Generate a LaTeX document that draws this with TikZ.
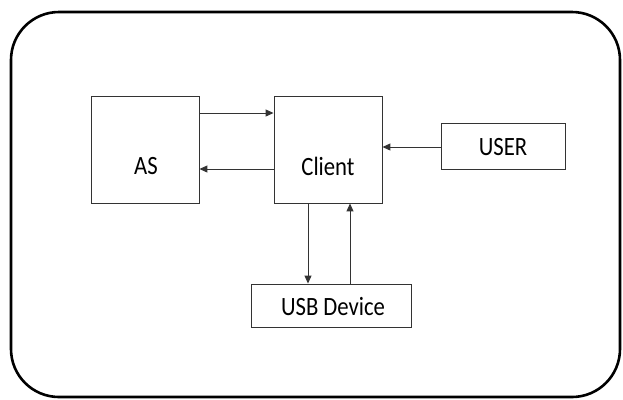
\documentclass[tikz,border=0pt]{standalone}
\usepackage{fontspec}
\setmainfont{Carlito}
\newfontfamily\labelfont[FakeStretch=0.86]{Carlito}
\usetikzlibrary{arrows.meta}
\begin{document}
\begin{tikzpicture}[x=1bp,y=-1bp,
  box/.style={draw=black!80,line width=0.9bp,inner sep=0pt},
  txt/.style={inner sep=0pt,font=\labelfont\fontsize{26.5}{30}\selectfont},
  arr/.style={draw=black!80,line width=1bp,-{Triangle[length=8bp,width=7bp]}}]
\useasboundingbox (0,0) rectangle (623,399);
\draw[line width=2.6bp,rounded corners=48bp] (11,12) rectangle (620,397);
\node[box,minimum width=108bp,minimum height=107bp] (as) at (145,149.5) {};
\node[box,minimum width=108bp,minimum height=107bp] (client) at (328,149.5) {};
\node[box,minimum width=124bp,minimum height=46bp] (user) at (503,146) {};
\node[box,minimum width=160bp,minimum height=43bp] (usb) at (331,305.5) {};
\node[txt] (astxt) at (146,166) {AS};
\node[txt] (clienttxt) at (328,166) {Client};
\node[txt] (usertxt) at (503,147) {USER};
\node[txt] (usbtxt) at (333,307) {USB Device};
\draw[arr] (as.east |- 0,113) -- (client.west |- 0,113);
\draw[arr] (client.west |- 0,169) -- (as.east |- 0,169);
\draw[arr] (user.west |- 0,147) -- (client.east |- 0,147);
\draw[arr] (client.south -| 308,0) -- (usb.north -| 308,0);
\draw[arr] (usb.north -| 350,0) -- (client.south -| 350,0);
\end{tikzpicture}
\end{document}
